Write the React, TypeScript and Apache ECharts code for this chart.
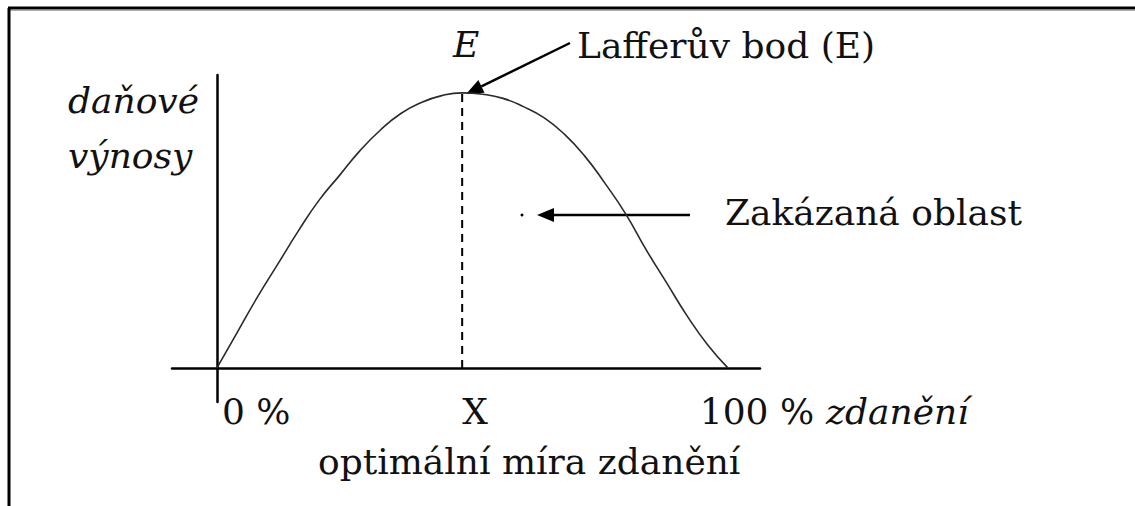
import React, { useEffect, useRef } from "react";
import * as echarts from "echarts";

// Tax rate (%) and relative tax revenue (peak = 100)
const taxRates = [0, 4, 8, 12, 16, 20, 24, 28, 32, 36, 40, 44, 48, 52, 56, 60, 64, 68, 72, 76, 80, 84, 88, 92, 96, 100];
const revenues = [0, 13, 26, 38, 50, 61, 70, 79, 86.5, 92.5, 96.5, 99, 100, 99.5, 98, 95, 91, 85, 77, 67, 56, 43, 31, 19, 8.5, 0];

const optimalRate = [48];
const peakRevenue = [100];

const xTickLabels = ["0 %", "X", "100 %"];
const xAxisTitle = ["zdanění"];
const yAxisTitle = ["daňové", "výnosy"];
const bottomCaption = ["optimální míra zdanění"];
const peakLabel = ["E"];
const annotationLabels = ["Lafferův bod (E)", "Zakázaná oblast"];

const FONT = "DejaVu Serif";
const INK = "#111";

export default function App() {
  const ref = useRef<HTMLDivElement>(null);

  useEffect(() => {
    if (!ref.current) return;
    const chart = echarts.init(ref.current, null, { renderer: "svg" });

    const curve = taxRates.map((x, i) => [x, revenues[i]]);
    const dashed = [
      [optimalRate[0], 0],
      [optimalRate[0], peakRevenue[0]],
    ];

    chart.setOption({
      animation: false,
      backgroundColor: "#fff",
      grid: { left: 172, right: 375, top: 75, bottom: 104 },
      xAxis: {
        type: "value",
        min: -8.8,
        max: 106.3,
        axisLine: { show: true, onZero: true, lineStyle: { color: "#000", width: 2.5 } },
        axisTick: { show: false },
        axisLabel: { show: false },
        splitLine: { show: false },
      },
      yAxis: {
        type: "value",
        min: -12.4,
        max: 106.5,
        axisLine: { show: true, onZero: true, lineStyle: { color: "#000", width: 2.5 } },
        axisTick: { show: false },
        axisLabel: { show: false },
        splitLine: { show: false },
      },
      series: [
        {
          type: "line",
          data: curve,
          smooth: true,
          symbol: "none",
          clip: false,
          lineStyle: { color: "#2a2a2a", width: 1.6 },
        },
        {
          type: "line",
          data: dashed,
          symbol: "none",
          lineStyle: { color: "#000", width: 2, type: [8, 6] },
        },
      ],
    });

    const px = (x: number, y: number) => chart.convertToPixel({ gridIndex: 0 }, [x, y]) as number[];
    const [x0] = px(0, 0);
    const [xOpt, yPeak] = px(optimalRate[0], peakRevenue[0]);
    const [x100] = px(100, 0);

    const txt = (text: string, x: number, y: number, align: string, italic = false, size = 36) => ({
      type: "text",
      x,
      y,
      style: {
        text,
        fontFamily: FONT,
        fontSize: size,
        fontStyle: italic ? "italic" : "normal",
        fill: INK,
        align,
        verticalAlign: "middle",
      },
    });

    const arrow = (tail: number[], tip: number[], len = 17, half = 7) => {
      const dx = tip[0] - tail[0];
      const dy = tip[1] - tail[1];
      const d = Math.hypot(dx, dy);
      const ux = dx / d;
      const uy = dy / d;
      const bx = tip[0] - ux * len;
      const by = tip[1] - uy * len;
      return [
        {
          type: "line",
          shape: { x1: tail[0], y1: tail[1], x2: bx, y2: by },
          style: { stroke: "#000", lineWidth: 2.5 },
        },
        {
          type: "polygon",
          shape: {
            points: [
              [tip[0], tip[1]],
              [bx - uy * half, by + ux * half],
              [bx + uy * half, by - ux * half],
            ],
          },
          style: { fill: "#000" },
        },
      ];
    };

    const zakY = px(0, 55.6)[1];

    chart.setOption({
      graphic: [
        // frame
        { type: "line", shape: { x1: 8, y1: 8, x2: 1135, y2: 8 }, style: { stroke: "#000", lineWidth: 3 } },
        { type: "line", shape: { x1: 8, y1: 10.5, x2: 1135, y2: 10.5 }, style: { stroke: "#aaa", lineWidth: 1 } },
        { type: "line", shape: { x1: 9, y1: 8, x2: 9, y2: 506 }, style: { stroke: "#000", lineWidth: 3 } },
        // texts
        txt(peakLabel[0], xOpt + 4, 44, "center", true),
        txt(annotationLabels[0], 577, 45, "left"),
        txt(yAxisTitle[0], 68, 100, "left", true),
        txt(yAxisTitle[1], 68, 155, "left", true),
        txt(annotationLabels[1], 725, zakY - 2, "left"),
        txt(xTickLabels[0], x0 + 5, 411, "left"),
        txt(xTickLabels[1], xOpt + 13, 411, "center"),
        txt(xTickLabels[2], x100 - 28, 411, "left"),
        txt(xAxisTitle[0], 826, 411, "left", true),
        txt(bottomCaption[0], 318, 461, "left"),
        // arrows
        ...arrow([570, 43], [xOpt + 4, yPeak + 1]),
        ...arrow([690, zakY], [537, zakY]),
        { type: "circle", shape: { cx: 522, cy: zakY, r: 1.5 }, style: { fill: "#000" } },
      ],
    });

    return () => chart.dispose();
  }, []);

  return (
    <div
      ref={ref}
      style={{ position: "absolute", left: 0, top: 0, width: 1135, height: 506, background: "#fff" }}
    />
  );
}
